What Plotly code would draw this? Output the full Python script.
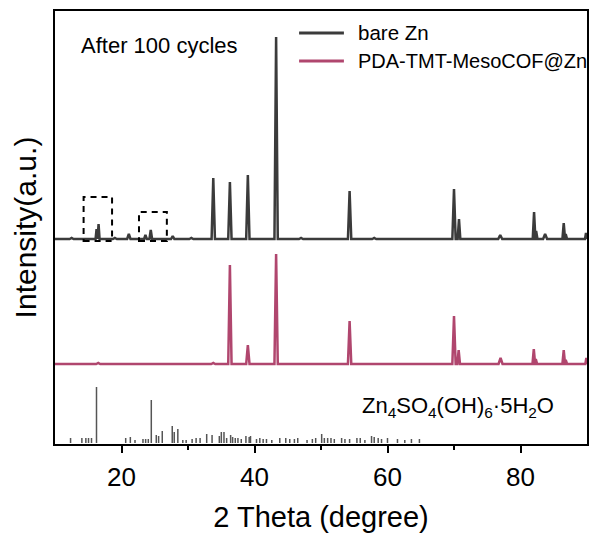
import plotly.graph_objects as go

# ---------------- data ----------------
# bare Zn pattern: baseline offset, peak positions (deg), heights, half-widths
zn_base = 205
zn_pos = [12.5, 16.25, 16.55, 19.0, 21.1, 23.6, 24.4, 27.7, 30.5, 33.8, 36.3, 39.0, 43.25,
          47.0, 54.3, 58.0, 70.0, 70.75, 76.95, 82.04, 82.35, 83.7, 86.5, 86.8, 89.85]
zn_h = [1, 10, 15, 1, 5, 4, 9, 3, 1, 61, 57, 64, 202,
        1, 48, 1, 50, 20, 4, 27, 8, 5, 16, 5, 6]
zn_w = [0.3, 0.15, 0.15, 0.3, 0.25, 0.2, 0.2, 0.25, 0.3, 0.25, 0.25, 0.25, 0.25,
        0.3, 0.25, 0.3, 0.25, 0.2, 0.3, 0.2, 0.2, 0.3, 0.2, 0.2, 0.15]

# PDA-TMT-MesoCOF@Zn pattern
pda_base = 80
pda_pos = [16.5, 33.8, 36.3, 39.0, 43.25, 54.3, 70.0, 70.7, 77.0, 82.0, 82.3, 86.5, 86.8, 89.9]
pda_h = [1, 1, 99, 19, 110, 43, 48, 14, 6, 15, 5, 14, 4, 6]
pda_w = [0.3, 0.3, 0.25, 0.25, 0.25, 0.25, 0.25, 0.2, 0.3, 0.2, 0.2, 0.2, 0.2, 0.15]

# Zn4SO4(OH)6·5H2O reference sticks
ref_pos = [12.34, 14.04, 14.64, 15.04, 15.49, 16.24, 20.63, 21.33, 22.03, 23.23, 23.63, 24.03,
           24.48, 25.23, 25.58, 26.13, 27.63, 27.93, 28.47, 29.22, 29.72, 30.62, 31.22, 31.82,
           32.81, 33.62, 34.71, 35.01, 35.41, 35.81, 36.41, 36.71, 37.11, 37.51, 38.01, 38.71,
           39.2, 39.4, 40.3, 40.8, 41.3, 41.8, 42.6, 43.8, 44.7, 45.3, 46.0, 46.5, 47.9, 48.7,
           49.2, 50.1, 50.5, 51.0, 51.5, 52.0, 53.1, 53.6, 54.3, 55.4, 55.9, 56.6, 57.6, 58.0,
           58.6, 59.1, 60.0, 61.5, 62.6, 63.6, 64.8]
ref_h = [5, 5, 5, 5, 5, 56, 5, 6, 3, 4, 4, 4,
         43, 8, 7, 12, 17, 11, 14, 3, 3, 4, 5, 5,
         9, 8, 7, 11, 11, 5, 8, 6, 5, 5, 4, 7,
         6, 7, 4, 5, 4, 4, 3, 5, 5, 4, 4, 5, 3, 4,
         5, 9, 5, 5, 5, 4, 5, 4, 4, 5, 5, 3, 7, 6,
         5, 4, 5, 4, 3, 4, 4]
ref_base = 1

# dashed highlight boxes (deg range, intensity range)
box_x0 = [14.3, 22.63]
box_x1 = [18.58, 26.82]
box_y0 = [203, 203]
box_y1 = [247, 232]

x_ticks = [20, 40, 60, 80]

ZN_COLOR = "#3b3b3b"
PDA_COLOR = "#b0466e"
REF_COLOR = "#555555"
FONT = "Liberation Sans, Arial, sans-serif"


def profile(base, pos, hts, wid):
    pk = sorted(zip(pos, hts, wid))
    xs, ys = [10], [base]
    for p, h, w in pk:
        xs += [p - w, p, p + w]
        ys += [base, base + h, base]
    xs.append(90)
    ys.append(base)
    return xs, ys


fig = go.Figure()

zx, zy = profile(zn_base, zn_pos, zn_h, zn_w)
fig.add_trace(go.Scatter(x=zx, y=zy, mode="lines", name="bare Zn",
                         line=dict(color=ZN_COLOR, width=2.5), showlegend=False))
px_, py_ = profile(pda_base, pda_pos, pda_h, pda_w)
fig.add_trace(go.Scatter(x=px_, y=py_, mode="lines", name="PDA-TMT-MesoCOF@Zn",
                         line=dict(color=PDA_COLOR, width=2.5), showlegend=False))

sx, sy = [], []
for p, h in zip(ref_pos, ref_h):
    sx += [p, p, None]
    sy += [ref_base, ref_base + h, None]
fig.add_trace(go.Scatter(x=sx, y=sy, mode="lines", name="Zn4SO4(OH)6·5H2O",
                         line=dict(color=REF_COLOR, width=1.5), showlegend=False))

shapes = []
for a, b, c, d in zip(box_x0, box_x1, box_y0, box_y1):
    shapes.append(dict(type="rect", xref="x", yref="y", x0=a, x1=b, y0=c, y1=d,
                       line=dict(color="black", width=2, dash="6px,5px")))

# legend lines (paper coords)
W, H = 592, 536
L, R, T, B = 55, 3, 11, 92
pw, ph = W - L - R, H - T - B


def pxx(x):
    return (x - L) / pw


def pyy(y):
    return (H - B - y) / ph


for yy, col in [(33, ZN_COLOR), (61, PDA_COLOR)]:
    shapes.append(dict(type="line", xref="paper", yref="paper", x0=pxx(300), x1=pxx(345),
                       y0=pyy(yy), y1=pyy(yy), line=dict(color=col, width=3)))

annotations = [
    dict(text="After 100 cycles", x=pxx(79), y=pyy(45), xref="paper", yref="paper",
         xanchor="left", yanchor="middle", showarrow=False, font=dict(size=22, color="black")),
    dict(text="bare Zn", x=pxx(357), y=pyy(33), xref="paper", yref="paper",
         xanchor="left", yanchor="middle", showarrow=False, font=dict(size=20.5, color="black")),
    dict(text="PDA-TMT-MesoCOF@Zn", x=pxx(357), y=pyy(61), xref="paper", yref="paper",
         xanchor="left", yanchor="middle", showarrow=False, font=dict(size=20, color="black")),
    dict(text="Zn<sub>4</sub>SO<sub>4</sub>(OH)<sub>6</sub>·5H<sub>2</sub>O", x=pxx(361), y=pyy(407),
         xref="paper", yref="paper", xanchor="left", yanchor="middle", showarrow=False,
         font=dict(size=22, color="black")),
]

fig.update_layout(
    width=W, height=H,
    margin=dict(l=L, r=R, t=T, b=B, pad=0),
    paper_bgcolor="white", plot_bgcolor="white",
    font=dict(family=FONT, color="black"),
    shapes=shapes, annotations=annotations,
    showlegend=False,
)
fig.update_xaxes(
    range=[10, 90], tickvals=x_ticks, ticks="outside", ticklen=7, tickwidth=2,
    tickcolor="black", showline=True, linecolor="black", linewidth=2, mirror=True,
    showgrid=False, zeroline=False, tickfont=dict(size=26), ticklabelstandoff=2,
    minor=dict(tickvals=[30, 50, 70], ticks="outside", ticklen=4, tickwidth=2, tickcolor="black"),
    title=dict(text="2 Theta (degree)", font=dict(size=29), standoff=15),
)
fig.update_yaxes(
    range=[0, 433], showticklabels=False, ticks="", showline=True, linecolor="black",
    linewidth=2, mirror=True, showgrid=False, zeroline=False,
    title=dict(text="Intensity(a.u.)", font=dict(size=30), standoff=8),
)

fig.write_html("out.html")
